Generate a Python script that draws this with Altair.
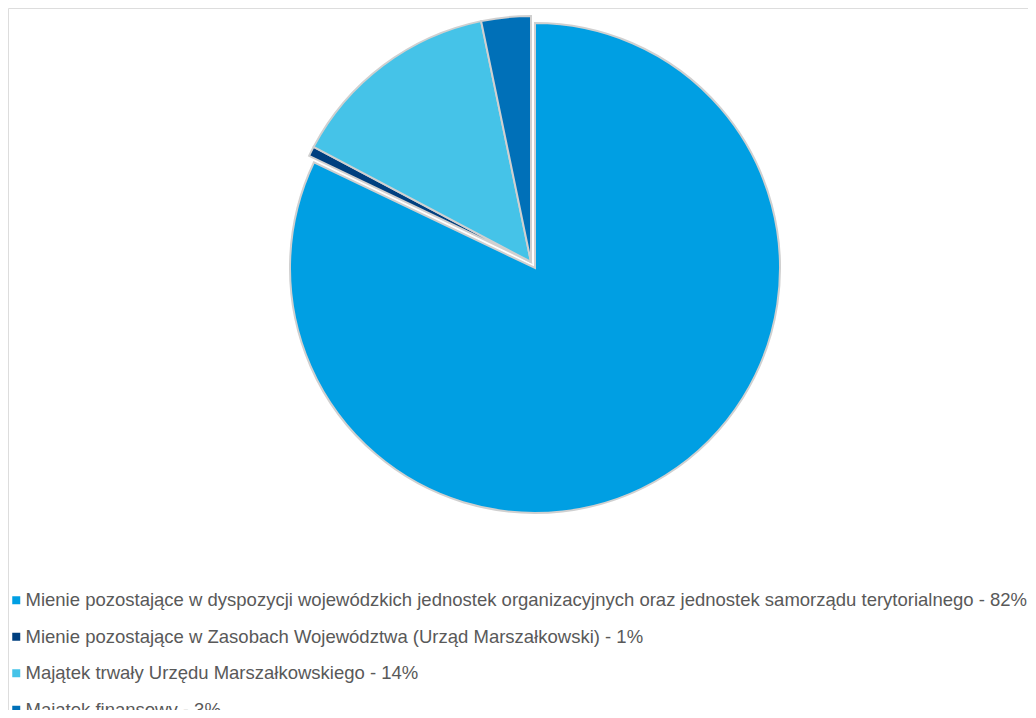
import altair as alt
import pandas as pd

categories = [
    "Mienie pozostające w dyspozycji wojewódzkich jednostek organizacyjnych oraz jednostek samorządu terytorialnego - 82%",
    "Mienie pozostające w Zasobach Województwa (Urząd Marszałkowski) - 1%",
    "Majątek trwały Urzędu Marszałkowskiego - 14%",
    "Majątek finansowy - 3%",
]
values = [82.1, 0.65, 14.0, 3.25]
colors = ["#009FE3", "#003F7F", "#45C3E8", "#0070B8"]

df = pd.DataFrame({"cat": categories, "val": values, "idx": list(range(len(values)))})

color = alt.Color(
    "cat:N",
    scale=alt.Scale(domain=categories, range=colors),
    sort=categories,
    legend=alt.Legend(
        title=None,
        orient="none",
        legendX=-1,
        legendY=583,
        direction="vertical",
        symbolType="square",
        symbolSize=64,
        symbolStrokeWidth=0,
        labelFont="Liberation Sans",
        labelFontSize=18.5,
        labelColor="#595959",
        labelLimit=1100,
        labelOffset=0,
        rowPadding=17.5,
    ),
)

base = (
    alt.Chart(df)
    .transform_joinaggregate(total="sum(val)")
    .transform_window(cum="sum(val)", sort=[alt.SortField("idx")], frame=[None, 0])
    .transform_calculate(
        t1="datum.cum / datum.total * 2 * PI",
        t0="(datum.cum - datum.val) / datum.total * 2 * PI",
    )
)

big = base.transform_filter("datum.idx == 0").mark_arc(
    radius=245, stroke="#D0D0D0", strokeWidth=2
).encode(
    theta=alt.Theta("t0:Q", scale=None),
    theta2="t1:Q",
    color=color,
    x=alt.value(527),
    y=alt.value(260),
)

rest = base.transform_filter("datum.idx != 0").mark_arc(
    radius=246, stroke="#D0D0D0", strokeWidth=2
).encode(
    theta=alt.Theta("t0:Q", scale=None),
    theta2="t1:Q",
    color=color,
    x=alt.value(523),
    y=alt.value(254),
)

chart = (
    alt.layer(big, rest)
    .properties(width=1020, height=702, autosize=alt.AutoSizeParams(type="none"), padding=0)
    .configure_view(stroke="transparent", strokeWidth=0)
    .configure(background="white")
)

chart.save("out.html", embed_options={"renderer": "svg", "actions": False})
